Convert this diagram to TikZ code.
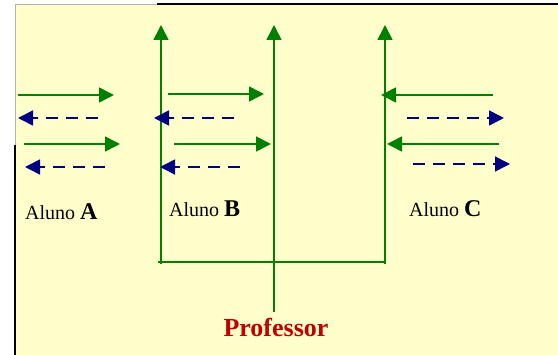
\documentclass[tikz,border=0pt]{standalone}
\usepackage{fontspec}
\setmainfont{Liberation Serif}
\usepackage{tikz}
\usetikzlibrary{arrows.meta}
\definecolor{paper}{HTML}{FFFFCC}
\definecolor{fioVerde}{HTML}{008000}
\definecolor{msgAzul}{HTML}{000080}
\definecolor{profVermelho}{HTML}{C00000}
\newcommand{\letraAluno}[1]{{\fontsize{24}{26}\selectfont\textbf{#1}}}
\tikzset{
  fala/.style={draw=fioVerde, line width=1.6pt, -{Triangle[length=15pt,width=15pt]}},
  resposta/.style={draw=msgAzul, line width=1.6pt, dash pattern=on 12pt off 8pt, -{Triangle[length=15pt,width=15pt]}},
  fio/.style={draw=fioVerde, line width=1.6pt},
  aluno/.style={anchor=base west, inner sep=0pt, font=\fontsize{20}{22}\selectfont}
}
\begin{document}
\begin{tikzpicture}[x=1pt, y=-1pt]
  \useasboundingbox (0,0) rectangle (558,355);
  % fundo e moldura
  \fill[paper] (15,4) rectangle (558,355);
  \draw[gray!60, line width=0.6pt] (15,145) -- (15,4) -- (157,4);
  \draw[black, line width=2.5pt] (157,4) -- (558,4);
  \draw[black, line width=2.5pt] (15,145) -- (15,355);
  % linhas do professor
  \coordinate (topoB) at (161,25);   \coordinate (baseB) at (161,264);
  \coordinate (topoP) at (274,25);   \coordinate (baseP) at (274,312);
  \coordinate (topoC) at (385,25);   \coordinate (baseC) at (385,264);
  \coordinate (barraE) at (158,262); \coordinate (barraD) at (385,262);
  \draw[fala] (baseB) -- (topoB);
  \draw[fala] (baseP) -- (topoP);
  \draw[fala] (baseC) -- (topoC);
  \draw[fio] (barraE) -- (barraD);
  % mensagens dos alunos
  \foreach \nome/\xa/\xb/\y/\estilo in {
      a1/18/114/95/fala, a2/98/18/118/resposta, a3/24/120/144/fala, a4/105/25/167/resposta,
      b1/168/264/94/fala, b2/234/154/118/resposta, b3/174/271/144/fala, b4/240/160/167/resposta,
      c1/493/381/95/fala, c2/407/504/118/resposta, c3/499/387/144/fala, c4/413/510/164/resposta}
    { \coordinate (\nome-s) at (\xa,\y); \coordinate (\nome-e) at (\xb,\y);
      \draw[\estilo] (\nome-s) -- (\nome-e); }
  \node[aluno] (alunoA) at (25,220) {Aluno \letraAluno{A}};
  \node[aluno] (alunoB) at (169,217) {Aluno \letraAluno{B}};
  \node[aluno] (alunoC) at (409,217) {Aluno \letraAluno{C}};
  \node[anchor=base, inner sep=0pt, text=profVermelho, font=\fontsize{26}{28}\selectfont\bfseries] (prof) at (276,337) {Professor};
\end{tikzpicture}
\end{document}
